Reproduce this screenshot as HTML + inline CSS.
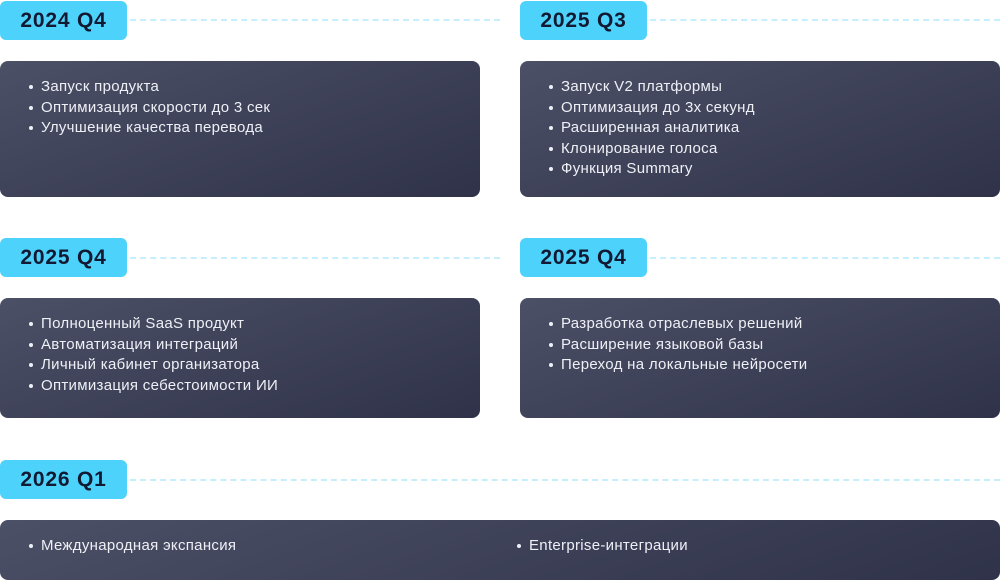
<!DOCTYPE html><html><head><style>
body{margin:0;width:1000px;height:577px;background:#fff;position:relative;overflow:hidden;font-family:"Liberation Sans",sans-serif}
.b{position:absolute;width:127px;height:39px;background:#4dd3fb;border-radius:6px;color:#121a33;font-weight:bold;font-size:21px;letter-spacing:0.8px;line-height:39px;text-align:center}
.l{position:absolute;height:0;border-top:2px dashed #c5effd}
.c{position:absolute;border-radius:8px;background:linear-gradient(160deg,#4c5066,#2f3249);color:#eef0f6;font-size:15px;letter-spacing:0.3px}
.c ul{margin:0;padding:16px 0 0 41px;list-style:none}
.c li{position:relative;line-height:20.5px}
.c li:before{content:"";position:absolute;left:-12px;top:8px;width:4px;height:4px;border-radius:50%;background:#eef0f6}
</style></head><body>
<div class="b" style="left:0;top:1px">2024 Q4</div><div class="l" style="left:130px;width:370px;top:19px"></div>
<div class="b" style="left:520px;top:1px">2025 Q3</div><div class="l" style="left:650px;width:350px;top:19px"></div>
<div class="c" style="left:0;top:61px;width:480px;height:136px"><ul><li>Запуск продукта</li><li>Оптимизация скорости до 3 сек</li><li>Улучшение качества перевода</li></ul></div>
<div class="c" style="left:520px;top:61px;width:480px;height:136px"><ul><li>Запуск V2 платформы</li><li>Оптимизация до 3х секунд</li><li>Расширенная аналитика</li><li>Клонирование голоса</li><li>Функция Summary</li></ul></div>
<div class="b" style="left:0;top:238px">2025 Q4</div><div class="l" style="left:130px;width:370px;top:257px"></div>
<div class="b" style="left:520px;top:238px">2025 Q4</div><div class="l" style="left:650px;width:350px;top:257px"></div>
<div class="c" style="left:0;top:298px;width:480px;height:120px"><ul><li>Полноценный SaaS продукт</li><li>Автоматизация интеграций</li><li>Личный кабинет организатора</li><li>Оптимизация себестоимости ИИ</li></ul></div>
<div class="c" style="left:520px;top:298px;width:480px;height:120px"><ul><li>Разработка отраслевых решений</li><li>Расширение языковой базы</li><li>Переход на локальные нейросети</li></ul></div>
<div class="b" style="left:0;top:460px">2026 Q1</div><div class="l" style="left:130px;width:870px;top:479px"></div>
<div class="c" style="left:0;top:520px;width:1000px;height:60px"><ul style="display:flex"><li style="width:488px">Международная экспансия</li><li>Enterprise-интеграции</li></ul></div>
</body></html>
